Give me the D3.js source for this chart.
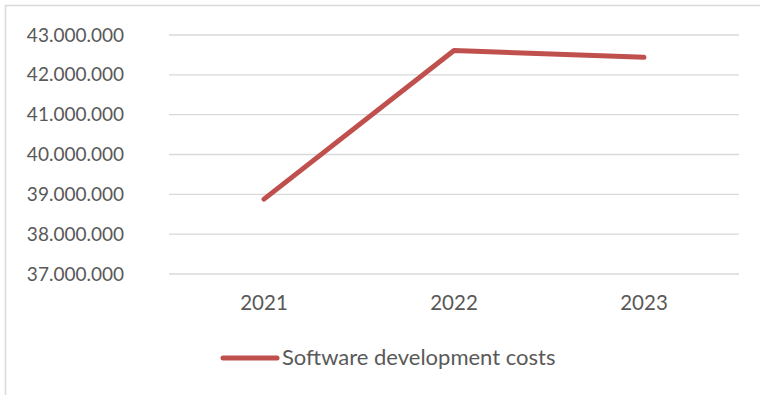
<html>
<script src='https://d3js.org/d3.v7.min.js'></script>
<style>
body {margin: 0; background: white;}
.grid line {stroke: #d9d9d9; stroke-width: 1.3px;}
.tick text {fill: #595959; font-family: Lato, sans-serif;}
</style>
<body>
<svg width=760 height=395></svg>
<script>
// chart data
var years = ["2021", "2022", "2023"];
var costs = [38880000, 42610000, 42440000];
var yTicks = [37000000, 38000000, 39000000, 40000000, 41000000, 42000000, 43000000];
var seriesName = "Software development costs";

var plotLeft = 169, plotRight = 739, plotTop = 35, plotBottom = 274;

var svg = d3.select("svg");

// outer chart frame (runs off the picture at right and bottom)
svg.append("rect")
    .attr("x", 5.5).attr("y", 5.5)
    .attr("width", 800).attr("height", 450)
    .attr("fill", "white")
    .attr("stroke", "#d9d9d9")
    .attr("stroke-width", 1.5);

var x = d3.scaleBand().domain(years).range([plotLeft, plotRight]);
var y = d3.scaleLinear().domain([37000000, 43000000]).range([plotBottom, plotTop]);

var loc = d3.formatLocale({decimal: ",", thousands: ".", grouping: [3], currency: ["", ""]});
var fmt = loc.format(",");

// gridlines
svg.append("g")
    .attr("class", "grid")
    .selectAll("line").data(yTicks).enter()
    .append("line")
    .attr("x1", plotLeft).attr("x2", plotRight)
    .attr("y1", function(d) { return y(d); })
    .attr("y2", function(d) { return y(d); });

// y axis labels
var yAxis = svg.append("g")
    .attr("transform", "translate(" + plotLeft + ",0)")
    .call(d3.axisLeft(y).tickValues(yTicks).tickFormat(fmt).tickSize(0).tickPadding(45));
yAxis.select(".domain").remove();
yAxis.selectAll("text").style("font-size", "19px");

// x axis labels
var xAxis = svg.append("g")
    .attr("transform", "translate(0," + plotBottom + ")")
    .call(d3.axisBottom(x).tickSize(0).tickPadding(21));
xAxis.select(".domain").remove();
xAxis.selectAll("text").style("font-size", "20.5px");

// the series
var line = d3.line()
    .x(function(d, i) { return x(years[i]) + x.bandwidth() / 2; })
    .y(function(d) { return y(d); });

svg.append("path")
    .datum(costs)
    .attr("d", line)
    .attr("fill", "none")
    .attr("stroke", "#c0504d")
    .attr("stroke-width", 5)
    .attr("stroke-linecap", "round")
    .attr("stroke-linejoin", "round");

// legend
var legend = svg.append("g").attr("transform", "translate(223,358)");
legend.append("line")
    .attr("x1", 0).attr("x2", 54)
    .attr("y1", 0).attr("y2", 0)
    .attr("stroke", "#c0504d")
    .attr("stroke-width", 5)
    .attr("stroke-linecap", "round");
legend.append("text")
    .attr("x", 59).attr("y", 7)
    .attr("fill", "#595959")
    .style("font-family", "Lato, sans-serif")
    .style("font-size", "22px")
    .text(seriesName);
</script>
</body>
</html>
